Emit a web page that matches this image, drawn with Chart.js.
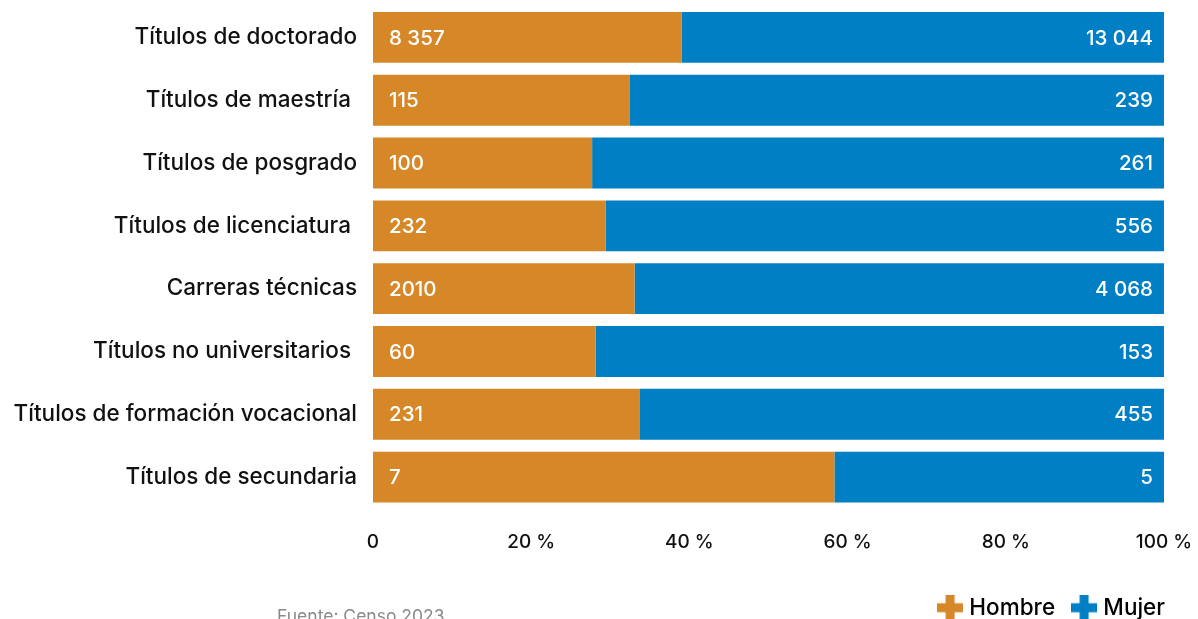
<!DOCTYPE html>
<html lang="es">
<head>
  <meta charset="UTF-8" />
  <title>Títulos por sexo</title>
  <script src="https://cdn.jsdelivr.net/npm/chart.js"></script>
  <style>
    html, body { margin: 0; padding: 0; background: #fff; }
    .wrap { position: relative; width: 1198px; height: 619px; overflow: hidden; }
  </style>
</head>
<body>
  <div class="wrap">
    <canvas id="titulosChart"></canvas>
  </div>

  <script>
    const categorias = [
      'Títulos de doctorado',
      'Títulos de maestría ',
      'Títulos de posgrado',
      'Títulos de licenciatura ',
      'Carreras técnicas',
      'Títulos no universitarios ',
      'Títulos de formación vocacional',
      'Títulos de secundaria'
    ];
    // counts as printed on the bars
    const hombreTxt = ['8 357', '115', '100', '232', '2010', '60', '231', '7'];
    const mujerTxt = ['13 044', '239', '261', '556', '4 068', '153', '455', '5'];
    const tickLabels = ['0', '20 %', '40 %', '60 %', '80 %', '100 %'];

    const toNum = s => Number(s.replace(/\s/g, ''));
    const hombre = hombreTxt.map(toNum);
    const mujer = mujerTxt.map(toNum);

    const naranja = '#D68828';
    const azul = '#007FC4';
    const fontFam = 'Inter, "Open Sans", sans-serif';

    // share of each row, so every bar fills 0-100
    const pctH = hombre.map((h, i) => h / (h + mujer[i]) * 100);
    const pctM = mujer.map((m, i) => m / (hombre[i] + m) * 100);

    function plusIcon(color) {
      const c = document.createElement('canvas');
      c.width = 26; c.height = 26;
      const g = c.getContext('2d');
      g.fillStyle = color;
      g.fillRect(8.5, 0, 9, 26);
      g.fillRect(0, 8.5, 26, 9);
      return c;
    }
    const icons = [plusIcon(naranja), plusIcon(azul)];

    const barLabels = {
      id: 'barLabels',
      afterDatasetsDraw(chart) {
        const ctx = chart.ctx;
        ctx.save();
        ctx.fillStyle = '#fff';
        ctx.font = '500 20.5px ' + fontFam;
        ctx.textBaseline = 'middle';
        chart.getDatasetMeta(0).data.forEach((bar, i) => {
          ctx.textAlign = 'left';
          ctx.fillText(hombreTxt[i], bar.base + 16, bar.y + 1);
        });
        chart.getDatasetMeta(1).data.forEach((bar, i) => {
          ctx.textAlign = 'right';
          ctx.fillText(mujerTxt[i], bar.x - 11, bar.y + 1);
        });
        ctx.restore();
      }
    };

    const fuente = {
      id: 'fuente',
      afterDraw(chart) {
        const ctx = chart.ctx;
        ctx.save();
        ctx.fillStyle = '#8a8a8a';
        ctx.font = '17.5px ' + fontFam;
        ctx.textBaseline = 'top';
        ctx.textAlign = 'left';
        ctx.fillText('Fuente: Censo 2023', 277, 608);
        ctx.restore();
      }
    };

    new Chart(document.getElementById('titulosChart'), {
      type: 'bar',
      data: {
        labels: categorias,
        datasets: [
          { label: 'Hombre', data: pctH, backgroundColor: naranja },
          { label: 'Mujer', data: pctM, backgroundColor: azul }
        ]
      },
      options: {
        indexAxis: 'y',
        responsive: true,
        maintainAspectRatio: false,
        animation: false,
        layout: { padding: { top: 6, right: 12, left: 0, bottom: -10 } },
        datasets: { bar: { barPercentage: 0.81, categoryPercentage: 1 } },
        scales: {
          x: {
            stacked: true,
            min: 0,
            max: 100,
            grid: { display: false, drawTicks: false },
            border: { display: false },
            afterFit: s => { s.paddingLeft = 0; s.paddingRight = 34; s.height = 67; },
            ticks: {
              stepSize: 20,
              padding: 22,
              color: '#111',
              font: { family: fontFam, size: 19, weight: '500' },
              callback: (v, i) => tickLabels[i]
            }
          },
          y: {
            stacked: true,
            grid: { display: false, drawTicks: false },
            border: { display: false },
            afterFit: s => { s.width = 373; s.paddingTop = 0; s.paddingBottom = 0; },
            ticks: {
              padding: 16,
              color: '#111',
              font: { family: fontFam, size: 22.5, weight: '500' }
            }
          }
        },
        plugins: {
          tooltip: { enabled: false },
          legend: {
            position: 'bottom',
            align: 'end',
            labels: {
              usePointStyle: true,
              pointStyleWidth: 16,
              padding: 21,
              color: '#111',
              font: { family: fontFam, size: 22.5, weight: '500' },
              generateLabels(chart) {
                return chart.data.datasets.map((ds, i) => ({
                  text: ds.label,
                  fillStyle: ds.backgroundColor,
                  strokeStyle: ds.backgroundColor,
                  lineWidth: 0,
                  pointStyle: icons[i],
                  datasetIndex: i,
                  hidden: false
                }));
              }
            }
          }
        }
      },
      plugins: [barLabels, fuente]
    });
  </script>
</body>
</html>
